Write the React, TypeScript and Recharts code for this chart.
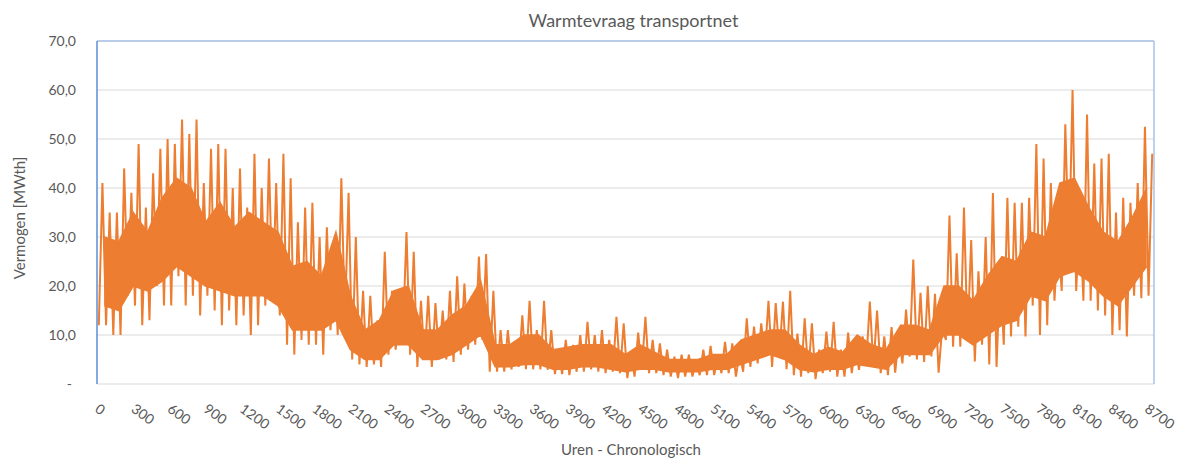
import React from "react";
import {
  ComposedChart, Line, Area, XAxis, YAxis, CartesianGrid, ReferenceLine,
} from "recharts";

// hourly heat demand, read per 60-hour block: highest and lowest value in each block
const BLOCK_HOURS = 60;
const blockPeaks = [
  41, 35, 35, 44, 39, 49, 36, 43, 48, 50, 49, 54, 51, 54, 41, 48, 49, 48, 40, 44,
  36, 47, 40, 46, 41, 47, 42, 33, 36, 37, 30, 32, 27, 42, 39, 30, 19, 18, 13, 27,
  19, 15, 31, 27, 17, 18, 16.5, 15, 19, 22, 20.5, 18, 26, 26.5, 19, 11, 11, 8, 14, 17,
  11, 17, 11, 6.5, 9, 8, 10, 12.7, 10, 11, 9, 13.7, 12.4, 6.5, 10.5, 13.7, 9, 8.3, 7, 5.6,
  6, 6, 5, 7, 7.8, 5.6, 8.6, 8.3, 6.3, 13.4, 11.7, 12.4, 17, 16.5, 16.8, 19, 10.3, 13.4, 12.4, 7,
  10.7, 12.7, 7, 10.5, 7.6, 9.7, 16.8, 15, 9.7, 11.6, 9.7, 15.2, 25.4, 18.6, 20, 18.4, 11.7, 34.4, 26.7, 36,
  29.4, 23, 30, 39, 23, 38, 37, 37, 38, 49, 46, 41, 31, 53, 60, 35, 55, 45, 46, 47,
  35, 38, 37, 41, 52.5, 47,
];
const blockLows = [
  12, 12, 10, 10, 18, 16, 12, 13, 20, 16, 16, 22, 16, 18, 14, 18, 15, 12, 15, 12,
  14, 10, 12, 16, 17, 14, 8, 6, 9, 8, 8, 6, 11, 10, 13, 5, 4, 3.5, 4, 3.5,
  6, 7, 10, 6, 3.5, 5, 3.5, 5, 5, 4.5, 6, 7, 8, 9, 2.5, 2.5, 2.5, 3, 3.5, 3,
  3, 3, 2.9, 2, 2, 1.8, 2.5, 2.5, 3, 2.5, 2.2, 2.5, 2.2, 1.2, 1.5, 2.9, 2.2, 2.2, 1.8, 1.5,
  1.2, 1.5, 1.5, 1.8, 1.8, 1.8, 2.2, 2.2, 1.5, 2.5, 3.5, 4.2, 5.6, 3.5, 6, 3, 1.8, 1.5, 2.2, 1,
  2.2, 2.5, 1.5, 1.5, 2.2, 2.9, 4.2, 3.5, 2.2, 1.8, 2.3, 4.2, 5.6, 5, 4.5, 5.6, 2.3, 9, 7.6, 7.6,
  9, 4.6, 8, 4, 3.5, 8, 9.7, 11.7, 9.7, 16, 10, 12, 17, 19, 26, 19, 17, 17, 15, 14,
  10, 11, 9.7, 18, 17.5, 18,
];

// the dense body of the curve, read per 120-hour block: lower and upper edge
const BODY_HOURS = 120;
const bodyLower = [
  16, 15, 20, 19, 21, 24, 22, 20, 19, 18, 18, 18, 16, 11, 11, 11, 13, 7, 5, 5,
  8, 8, 5, 5, 6, 8, 10, 3.5, 3.5, 4, 4, 3, 3, 3.5, 3.5, 3, 2.5, 3, 3, 2.5,
  2.5, 2.5, 3, 3, 4, 5, 6, 5, 3, 2.5, 3, 3, 4, 3.5, 3, 6, 6, 6, 10, 10,
  8, 10, 12, 13, 18, 17, 22, 23, 21, 18, 16, 20, 24,
];
const bodyUpper = [
  30, 29, 35, 31, 38, 42, 40, 33, 37, 32, 35, 33, 31, 24, 25, 22, 31, 18, 11, 13,
  19, 20, 11, 11, 14, 16, 21, 8, 8, 10, 10, 7, 7.5, 8, 8, 8, 6, 8, 6.5, 5,
  5, 5, 6, 6, 9, 10, 11, 11, 8, 6, 7.5, 6.5, 10, 8, 7, 12, 12, 11, 20, 20,
  17, 22, 26, 25, 31, 30, 41, 42, 36, 31, 29, 34, 40,
];

const hourTicks = [
  0, 300, 600, 900, 1200, 1500, 1800, 2100, 2400, 2700, 3000, 3300, 3600, 3900, 4200,
  4500, 4800, 5100, 5400, 5700, 6000, 6300, 6600, 6900, 7200, 7500, 7800, 8100, 8400, 8700,
];
const powerTicks = [0, 10, 20, 30, 40, 50, 60, 70];

const spikeData = blockPeaks.flatMap((hi, i) => [
  { uur: i * BLOCK_HOURS + 15, mw: blockLows[i] },
  { uur: i * BLOCK_HOURS + 45, mw: hi },
]);
const bodyData = bodyLower.map((lo, i) => ({
  uur: i * BODY_HOURS + BODY_HOURS / 2,
  body: [lo, bodyUpper[i]],
}));

const FONT = "Lato, 'Open Sans', sans-serif";
const GREY = "#595959";
const ORANGE = "#ED7D31";

const XTick = ({ x, y, payload }: any) => (
  <g transform={`translate(${x - 3},${y + 27}) rotate(36)`}>
    <text x={0} y={0} fill={GREY} fontSize={14} fontFamily={FONT} textAnchor="start">
      {payload.value}
    </text>
  </g>
);

const YTick = ({ y, payload }: any) => {
  const v = payload.value as number;
  return (
    <text
      x={v === 0 ? 72 : 76}
      y={y + 5}
      fill={GREY}
      fontSize={14}
      fontFamily={FONT}
      textAnchor="end"
    >
      {v === 0 ? "-" : v.toFixed(1).replace(".", ",")}
    </text>
  );
};

export default function App() {
  return (
    <div style={{ position: "relative", width: 1179, height: 458, background: "#fff", fontFamily: FONT }}>
      <style>{`body{margin:0}`}</style>
      <div
        style={{
          position: "absolute", left: 0, width: 1267, top: 9, textAlign: "center",
          fontSize: 18, color: GREY,
        }}
      >
        Warmtevraag transportnet
      </div>
      <div
        style={{
          position: "absolute", left: 19, top: 218, transform: "translate(-50%,-50%) rotate(-90deg)",
          fontSize: 15, color: GREY, whiteSpace: "nowrap",
        }}
      >
        Vermogen [MWth]
      </div>
      <div
        style={{
          position: "absolute", left: 0, width: 1262, top: 440, textAlign: "center",
          fontSize: 15, color: GREY,
        }}
      >
        Uren - Chronologisch
      </div>
      <ComposedChart
        width={1179}
        height={458}
        margin={{ top: 41, right: 25, left: 37, bottom: 0 }}
        style={{ position: "absolute", left: 0, top: 0 }}
      >
        <CartesianGrid vertical={false} stroke="#d9d9d9" strokeWidth={1} />
        <XAxis
          dataKey="uur"
          type="number"
          domain={[0, 8760]}
          ticks={hourTicks}
          interval={0}
          height={74}
          tickSize={0}
          tickMargin={0}
          axisLine={false}
          tick={<XTick />}
        />
        <YAxis
          type="number"
          domain={[0, 70]}
          ticks={powerTicks}
          width={60}
          tickSize={0}
          axisLine={{ stroke: "#5b8ed6", strokeWidth: 1.5 }}
          tickLine={false}
          tick={<YTick />}
        />
        <ReferenceLine y={70} stroke="#a8c3e8" strokeWidth={1.5} />
        <ReferenceLine x={8760} stroke="#a8c3e8" strokeWidth={1.5} />
        <Area
          data={bodyData}
          type="linear"
          dataKey="body"
          stroke={ORANGE}
          strokeWidth={1.5}
          fill={ORANGE}
          fillOpacity={1}
          isAnimationActive={false}
        />
        <Line
          data={spikeData}
          type="linear"
          dataKey="mw"
          stroke={ORANGE}
          strokeWidth={2}
          dot={false}
          isAnimationActive={false}
        />
      </ComposedChart>
    </div>
  );
}
